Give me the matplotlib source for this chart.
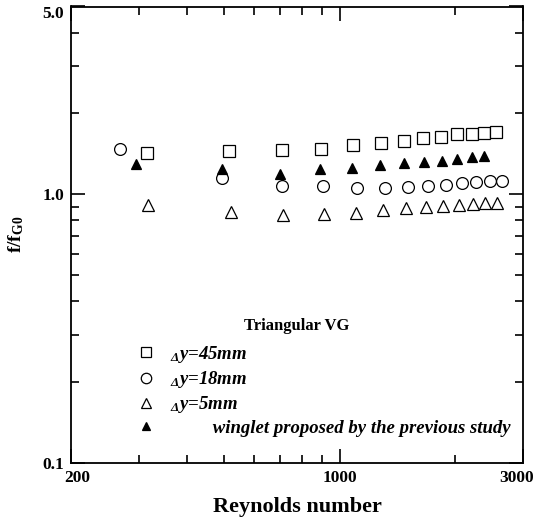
import matplotlib
matplotlib.use("Agg")
import matplotlib.pyplot as plt
from matplotlib.ticker import FixedLocator, LogLocator, NullFormatter
from matplotlib.lines import Line2D
from matplotlib.transforms import ScaledTranslation

# ---- data ----
re_sq = [316, 515, 707, 893, 1083, 1281, 1473, 1651, 1832, 2024, 2214, 2375, 2558]
f_sq = [1.43, 1.445, 1.46, 1.48, 1.52, 1.55, 1.58, 1.615, 1.63, 1.67, 1.68, 1.69, 1.705]

re_ci = [268, 493, 707, 905, 1112, 1312, 1509, 1701, 1888, 2086, 2268, 2462, 2642]
f_ci = [1.474, 1.154, 1.074, 1.077, 1.059, 1.059, 1.068, 1.077, 1.087, 1.105, 1.111, 1.118, 1.125]

re_tr = [317, 521, 714, 911, 1105, 1299, 1486, 1675, 1858, 2045, 2224, 2390, 2574]
f_tr = [0.916, 0.857, 0.838, 0.845, 0.855, 0.877, 0.887, 0.90, 0.908, 0.916, 0.920, 0.926, 0.931]

re_wl = [296, 493, 698, 889, 1079, 1274, 1471, 1658, 1844, 2024, 2214, 2375]
f_wl = [1.30, 1.239, 1.194, 1.239, 1.253, 1.282, 1.308, 1.323, 1.335, 1.349, 1.372, 1.388]

labels = [r"$_\Delta$y=45mm", r"$_\Delta$y=18mm", r"$_\Delta$y=5mm",
          "winglet proposed by the previous study"]
legend_title = "Triangular VG"
x_ticks = [200, 1000, 3000]
x_ticklabels = ["200", "1000", "3000"]
y_ticks = [0.1, 1.0, 5.0]
y_ticklabels = ["0.1", "1.0", "5.0"]

# ---- style ----
plt.rcParams["font.family"] = ["Liberation Serif", "DejaVu Serif"]
plt.rcParams["font.weight"] = "bold"
plt.rcParams["mathtext.default"] = "regular"

fig = plt.figure(figsize=(5.36, 5.31), dpi=100)
ax = fig.add_axes([71 / 536, 1 - 463 / 531, (523 - 71) / 536, (463 - 6.5) / 531])

ms = 8.5
ax.plot(re_sq, f_sq, ls="none", marker="s", ms=ms - 0.5, mfc="white", mec="black", mew=0.9)
ax.plot(re_ci, f_ci, ls="none", marker="o", ms=ms, mfc="white", mec="black", mew=0.9)
ax.plot(re_tr, f_tr, ls="none", marker="^", ms=ms, mfc="white", mec="black", mew=0.9)
ax.plot(re_wl, f_wl, ls="none", marker="^", ms=7, mfc="black", mec="black", mew=0.9)

ax.set_xscale("log")
ax.set_yscale("log")
ax.set_xlim(200, 3000)
ax.set_ylim(0.1, 5.0)

ax.xaxis.set_major_locator(FixedLocator(x_ticks))
ax.set_xticklabels(x_ticklabels)
ax.yaxis.set_major_locator(FixedLocator(y_ticks))
ax.set_yticklabels(y_ticklabels)
ax.xaxis.set_minor_locator(LogLocator(base=10, subs=range(2, 10)))
ax.yaxis.set_minor_locator(LogLocator(base=10, subs=range(2, 10)))
ax.xaxis.set_minor_formatter(NullFormatter())
ax.yaxis.set_minor_formatter(NullFormatter())

ax.tick_params(which="both", direction="in", top=True, right=True, width=1.2,
               labelsize=12.5)
ax.tick_params(which="major", length=10, pad=5)
ax.tick_params(which="minor", length=5.5)
for lab in ax.get_xticklabels() + ax.get_yticklabels():
    lab.set_fontweight("bold")
for s in ax.spines.values():
    s.set_linewidth(1.3)

# nudge edge labels like the reference
xt = ax.get_xticklabels()
xt[0].set_transform(xt[0].get_transform() + ScaledTranslation(6 / 100, 0, fig.dpi_scale_trans))
xt[-1].set_transform(xt[-1].get_transform() + ScaledTranslation(-6 / 100, 0, fig.dpi_scale_trans))
yt = ax.get_yticklabels()
yt[-1].set_transform(yt[-1].get_transform() + ScaledTranslation(0, -5 / 100, fig.dpi_scale_trans))

ax.set_xlabel("Reynolds number", fontsize=16, fontweight="bold", labelpad=8)
ax.set_ylabel(r"f/f$_{G0}$", fontsize=14, fontweight="bold", labelpad=12)

handles = [
    Line2D([], [], ls="none", marker="s", ms=7, mfc="white", mec="black", mew=0.9),
    Line2D([], [], ls="none", marker="o", ms=7.5, mfc="white", mec="black", mew=0.9),
    Line2D([], [], ls="none", marker="^", ms=7.5, mfc="white", mec="black", mew=0.9),
    Line2D([], [], ls="none", marker="^", ms=6, mfc="black", mec="black", mew=0.9),
]
leg_labels = labels[:3] + ["         " + labels[3]]
leg = ax.legend(handles, leg_labels, frameon=False,
                loc="upper left", bbox_to_anchor=(0.129, 0.277), borderaxespad=0,
                prop={"family": "Liberation Serif", "weight": "bold", "style": "italic", "size": 13.5},
                handletextpad=0.78, labelspacing=0.22, handlelength=1.0)
ax.text(0.5, 0.300, legend_title, transform=ax.transAxes, ha="center", va="center",
        fontsize=12, fontweight="bold", family="Liberation Serif")

fig.savefig("out.png", dpi=100)
